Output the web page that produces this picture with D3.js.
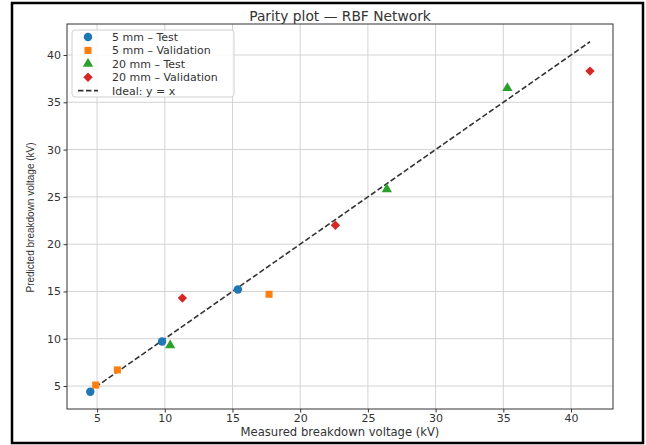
<!DOCTYPE html>
<html>
<head>
<meta charset="utf-8">
<script src="https://cdn.jsdelivr.net/npm/d3@7"></script>
<style>
  body { margin: 0; background: #fff; }
  svg { display: block; }
</style>
</head>
<body>
<div id="chart"></div>
<script>
// measured vs predicted breakdown voltage (kV)
var test5X = [4.5, 9.8, 15.4];
var test5Y = [4.4, 9.7, 15.2];
var val5X = [4.9, 6.5, 17.7];
var val5Y = [5.1, 6.7, 14.7];
var test20X = [10.4, 26.4, 35.3];
var test20Y = [9.3, 25.8, 36.5];
var val20X = [11.3, 22.6, 41.4];
var val20Y = [14.3, 22.0, 38.3];
var xTicks = [5, 10, 15, 20, 25, 30, 35, 40];
var yTicks = [5, 10, 15, 20, 25, 30, 35, 40];

var width = 646, height = 445;
var margin = {top: 24, right: 33, bottom: 36, left: 67};

var svg = d3.select("#chart").append("svg")
  .attr("width", width)
  .attr("height", height);

// outer frame of the picture
svg.append("rect")
  .attr("x", 12).attr("y", 3)
  .attr("width", 631).attr("height", 440)
  .attr("fill", "#fff")
  .attr("stroke", "#000")
  .attr("stroke-width", 2.5);

var series = [
  {name: "5 mm \u2013 Test", xs: test5X, ys: test5Y, color: "#1f77b4", shape: "circle"},
  {name: "5 mm \u2013 Validation", xs: val5X, ys: val5Y, color: "#ff7f0e", shape: "square"},
  {name: "20 mm \u2013 Test", xs: test20X, ys: test20Y, color: "#2ca02c", shape: "triangle"},
  {name: "20 mm \u2013 Validation", xs: val20X, ys: val20Y, color: "#d62728", shape: "diamond"}
];

var allVals = [];
series.forEach(function(s) { allVals = allVals.concat(s.xs, s.ys); });
var lo = d3.min(allVals), hi = d3.max(allVals);

var x = d3.scaleLinear()
  .domain([2.78, 43.1])
  .range([margin.left, width - margin.right]);
var y = d3.scaleLinear()
  .domain([2.57, 43.28])
  .range([height - margin.bottom, margin.top]);

var symbols = {
  circle: d3.symbol().type(d3.symbolCircle).size(56),
  square: d3.symbol().type(d3.symbolSquare).size(50),
  triangle: d3.symbol().type(d3.symbolTriangle).size(46),
  diamond: d3.symbol().type(d3.symbolSquare).size(44)
};
function symbolTransform(s, px, py) {
  return "translate(" + px + "," + py + ")" + (s.shape == "diamond" ? " rotate(45)" : "");
}

var g = svg.append("g");

// grid
g.selectAll(".gx").data(xTicks).enter().append("line")
  .attr("x1", function(d) { return x(d); }).attr("x2", function(d) { return x(d); })
  .attr("y1", margin.top).attr("y2", height - margin.bottom)
  .attr("stroke", "#d3d3d3").attr("stroke-width", 1);
g.selectAll(".gy").data(yTicks).enter().append("line")
  .attr("y1", function(d) { return y(d); }).attr("y2", function(d) { return y(d); })
  .attr("x1", margin.left).attr("x2", width - margin.right)
  .attr("stroke", "#d3d3d3").attr("stroke-width", 1);

// ideal line
g.append("line")
  .attr("x1", x(lo)).attr("y1", y(lo))
  .attr("x2", x(hi)).attr("y2", y(hi))
  .attr("stroke", "#333").attr("stroke-width", 1.6)
  .attr("stroke-dasharray", "5.5,2.5");

// points
series.forEach(function(s) {
  g.selectAll(null).data(s.xs).enter().append("path")
    .attr("d", symbols[s.shape])
    .attr("transform", function(d, i) { return symbolTransform(s, x(d), y(s.ys[i])); })
    .attr("fill", s.color);
});

// axes
var xAxis = svg.append("g")
  .attr("transform", "translate(0," + (height - margin.bottom) + ")")
  .call(d3.axisBottom(x).tickValues(xTicks).tickSize(3.5).tickPadding(2));
var yAxis = svg.append("g")
  .attr("transform", "translate(" + margin.left + ",0)")
  .call(d3.axisLeft(y).tickValues(yTicks).tickSize(3.5).tickPadding(2.5));
[xAxis, yAxis].forEach(function(a) {
  a.select(".domain").remove();
  a.selectAll("text").attr("font-family", "DejaVu Sans").attr("font-size", 11).attr("fill", "#333");
  a.selectAll("line").attr("stroke", "#333");
});

// frame of the axes
svg.append("rect")
  .attr("x", margin.left).attr("y", margin.top)
  .attr("width", width - margin.left - margin.right)
  .attr("height", height - margin.top - margin.bottom)
  .attr("fill", "none").attr("stroke", "#333").attr("stroke-width", 1);

// title and labels
svg.append("text")
  .attr("x", (margin.left + width - margin.right) / 2).attr("y", 20.5)
  .attr("text-anchor", "middle")
  .attr("font-family", "DejaVu Sans").attr("font-size", 13.8).attr("fill", "#333")
  .text("Parity plot \u2014 RBF Network");
svg.append("text")
  .attr("x", (margin.left + width - margin.right) / 2).attr("y", 435.5)
  .attr("text-anchor", "middle")
  .attr("font-family", "DejaVu Sans").attr("font-size", 11.6).attr("fill", "#333")
  .text("Measured breakdown voltage (kV)");
svg.append("text")
  .attr("transform", "translate(34," + ((margin.top + height - margin.bottom) / 2 + 1) + ") rotate(-90)")
  .attr("text-anchor", "middle")
  .attr("font-family", "Liberation Sans").attr("font-size", 10).attr("fill", "#333")
  .text("Predicted breakdown voltage (kV)");

// legend
var legend = svg.append("g").attr("transform", "translate(72,30)");
legend.append("rect")
  .attr("width", 162).attr("height", 67).attr("rx", 3)
  .attr("fill", "#fff").attr("fill-opacity", 0.85)
  .attr("stroke", "#d0d0d0");
var entries = series.concat([{name: "Ideal: y = x", shape: "line"}]);
entries.forEach(function(s, i) {
  var ey = 7 + i * 13.4;
  if (s.shape == "line") {
    legend.append("line")
      .attr("x1", 6).attr("x2", 26).attr("y1", ey).attr("y2", ey)
      .attr("stroke", "#333").attr("stroke-width", 1.6).attr("stroke-dasharray", "5.5,2.5");
  } else {
    legend.append("path")
      .attr("d", symbols[s.shape])
      .attr("transform", symbolTransform(s, 16, ey))
      .attr("fill", s.color);
  }
  legend.append("text")
    .attr("x", 40).attr("y", ey + 4)
    .attr("font-family", "DejaVu Sans").attr("font-size", 11).attr("fill", "#333")
    .text(s.name);
});
</script>
</body>
</html>
